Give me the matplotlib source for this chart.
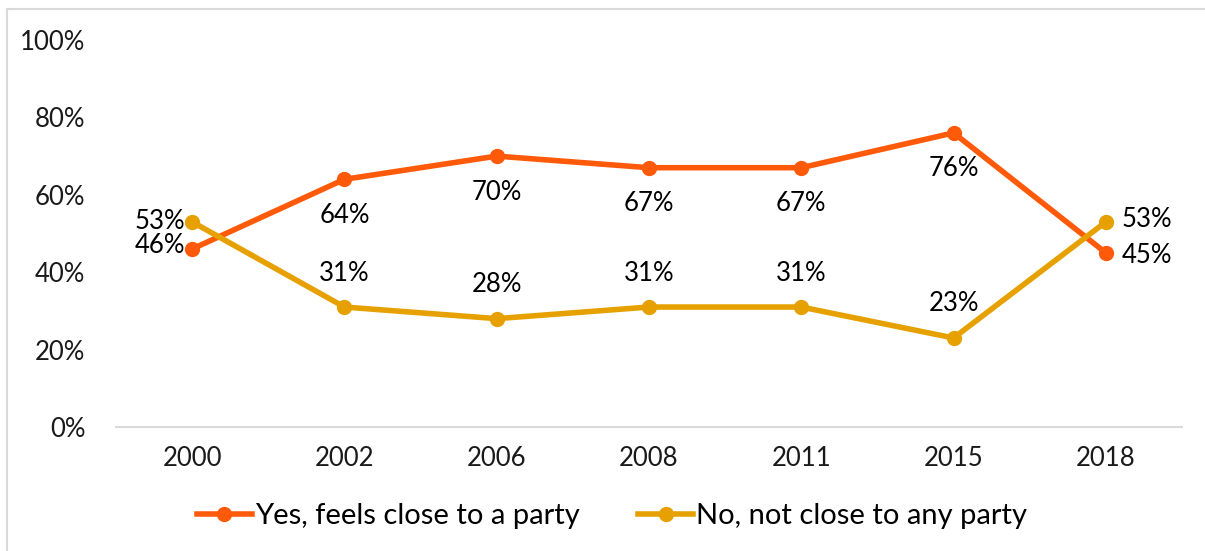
import matplotlib.pyplot as plt
from matplotlib.lines import Line2D

years = ["2000", "2002", "2006", "2008", "2011", "2015", "2018"]
yes_close = [46, 64, 70, 67, 67, 76, 45]
no_close = [53, 31, 28, 31, 31, 23, 53]
yes_name = "Yes, feels close to a party"
no_name = "No, not close to any party"

c_yes = "#FF5A0A"
c_no = "#E6A100"

plt.rcParams['font.family'] = ['Lato', 'DejaVu Sans']

fig = plt.figure(figsize=(12.05, 5.51), dpi=100)
ax = fig.add_axes([116 / 1205, 1 - 427 / 551, 1066 / 1205, 387 / 551])

x = list(range(len(years)))
ax.plot(x, yes_close, color=c_yes, lw=4, marker='o', ms=10, solid_capstyle='round', label=yes_name)
ax.plot(x, no_close, color=c_no, lw=4, marker='o', ms=10, solid_capstyle='round', label=no_name)

ax.set_xlim(-0.5, len(years) - 0.5)
ax.set_ylim(0, 100)
ax.set_yticks(range(0, 101, 20))
ax.set_yticklabels([f"{v}%" for v in range(0, 101, 20)])
ax.set_xticks(x)
ax.set_xticklabels(years)
ax.tick_params(length=0, labelsize=18.5, colors='#1a1a1a')
ax.tick_params(axis='y', pad=22)
ax.tick_params(axis='x', pad=14)
for s in ['top', 'right', 'left']:
    ax.spines[s].set_visible(False)
ax.spines['bottom'].set_color('#d9d9d9')
ax.spines['bottom'].set_linewidth(1.5)

# data labels
last = len(years) - 1
fs = 18.5
for i in x:
    if i == 0:
        ax.annotate(f"{yes_close[i]}%", (i, yes_close[i]), xytext=(-7, 3), textcoords='offset pixels',
                    ha='right', va='center', fontsize=fs)
        ax.annotate(f"{no_close[i]}%", (i, no_close[i]), xytext=(-7, 0), textcoords='offset pixels',
                    ha='right', va='center', fontsize=fs)
    elif i == last:
        ax.annotate(f"{yes_close[i]}%", (i, yes_close[i]), xytext=(16, -3), textcoords='offset pixels',
                    ha='left', va='center', fontsize=fs)
        ax.annotate(f"{no_close[i]}%", (i, no_close[i]), xytext=(16, 2), textcoords='offset pixels',
                    ha='left', va='center', fontsize=fs)
    else:
        ax.annotate(f"{yes_close[i]}%", (i, yes_close[i]), xytext=(0, -36), textcoords='offset pixels',
                    ha='center', va='center', fontsize=fs)
        ax.annotate(f"{no_close[i]}%", (i, no_close[i]), xytext=(0, 34), textcoords='offset pixels',
                    ha='center', va='center', fontsize=fs)

handles = [Line2D([0], [0], color=c_yes, lw=4, marker='o', ms=10),
           Line2D([0], [0], color=c_no, lw=4, marker='o', ms=10)]
fig.legend(handles, [yes_name, no_name], loc='center', bbox_to_anchor=(612 / 1205, 1 - 516 / 551),
           ncol=2, frameon=False, fontsize=21, handlelength=1.9, handletextpad=0.1, columnspacing=2.0)

# outer border (top and left only)
fig.add_artist(Line2D([7 / 1205, 7 / 1205, 1.0], [0, 1 - 9 / 551, 1 - 9 / 551],
                      transform=fig.transFigure, color='#d9d9d9', lw=1.5))

fig.savefig("out.png", dpi=100)
